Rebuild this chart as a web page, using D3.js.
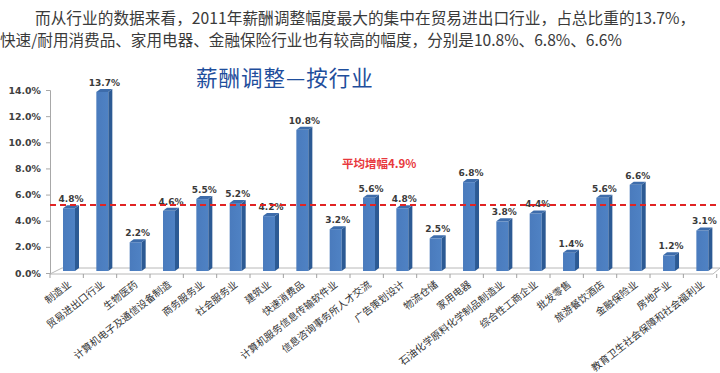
<!DOCTYPE html>
<html><head><meta charset="utf-8">
<script src="https://cdn.jsdelivr.net/npm/d3@7/dist/d3.min.js"></script>
<style>
body{margin:0;background:#fff;}
svg{display:block;}
</style></head>
<body><svg id="c" width="720" height="373"></svg>
<script>
const categories = ["制造业","贸易进出口行业","生物医药","计算机电子及通信设备制造","商务服务业","社会服务业","建筑业","快速消费品","计算机服务信息传输软件业","信息咨询事务所人才交流","广告策划设计","物流仓储","家用电器","石油化学原料化学制品制造业","综合性工商企业","批发零售","旅游餐饮酒店","金融保险业","房地产业","教育卫生社会保障和社会福利业"];
const values = [4.8,13.7,2.2,4.6,5.5,5.2,4.2,10.8,3.2,5.6,4.8,2.5,6.8,3.8,4.4,1.4,5.6,6.6,1.2,3.1];
const yTicks = [0,2,4,6,8,10,12,14];
const average = 4.9;
const averageLabel = "平均增幅4.9%";
const title = "薪酬调整—按行业";
const introLines = ["而从行业的数据来看，2011年薪酬调整幅度最大的集中在贸易进出口行业，占总比重的13.7%，","快速/耐用消费品、家用电器、金融保险行业也有较高的幅度，分别是10.8%、6.8%、6.6%"];

const svg = d3.select("#c");
const cjk = "'Noto Sans CJK SC','Noto Sans',sans-serif";
const num = "'DejaVu Sans',Verdana,sans-serif";

// intro text
svg.append("text").attr("x",35).attr("y",24).attr("font-family",cjk).attr("font-size",15.7).attr("fill","#3a3a3a").text(introLines[0]);
svg.append("text").attr("x",0).attr("y",46).attr("font-family",cjk).attr("font-size",15.6).attr("fill","#3a3a3a").text(introLines[1]);

// title
svg.append("text").attr("x",196).attr("y",86).attr("font-family",cjk).attr("font-size",21.5).attr("fill","#1f4e9c").attr("letter-spacing",1).text(title);

const x = d3.scaleBand().domain(categories).range([50,716.7]).padding(0);
const y = d3.scaleLinear().domain([0,14]).range([271,88]);
const depth = 4, rise = 3, fw = 12, off = 13;

// floor
const x0 = 50, x1 = 713;
const floor = svg.append("g").attr("stroke","#b8b8b8").attr("fill","none").attr("stroke-width",1);
floor.append("path").attr("d",`M${x0},274 L${x0+12},268 L720,268`);
floor.append("path").attr("d",`M${x0},274 L${x1},274 L720,268`);
// category ticks
svg.append("g").selectAll("line").data(categories.concat(["_end"])).join("line")
  .attr("x1",(d,i)=>50+i*x.bandwidth()).attr("x2",(d,i)=>50+i*x.bandwidth())
  .attr("y1",274).attr("y2",278).attr("stroke","#a0a0a0");

// y axis
const ya = svg.append("g").attr("transform","translate(50,2)")
  .call(d3.axisLeft(y).tickValues(yTicks).tickSize(4).tickPadding(5).tickFormat(d=>d3.format(".1f")(d)+"%"));
ya.select(".domain").attr("stroke","#a8a8a8");
ya.selectAll(".tick line").attr("stroke","#a8a8a8");
ya.selectAll("text").attr("font-family",num).attr("font-size",9.4).attr("font-weight","bold").attr("fill","#404040");

// bars
const defs = svg.append("defs");
const g1 = defs.append("linearGradient").attr("id","gf").attr("x1",0).attr("x2",1);
g1.append("stop").attr("offset","0").attr("stop-color","#4a7bbd");
g1.append("stop").attr("offset","1").attr("stop-color","#4f82c4");
const bars = svg.append("g").selectAll("g").data(values).join("g");
bars.append("rect").attr("x",(d,i)=>x(categories[i])+off).attr("y",d=>y(d)).attr("width",fw).attr("height",d=>y(0)-y(d)).attr("fill","url(#gf)");
bars.append("path").attr("fill","#2c5a94").attr("d",(d,i)=>{const l=x(categories[i])+off+fw; return `M${l},${y(d)} L${l+depth},${y(d)-rise} L${l+depth},${y(0)-rise} L${l},${y(0)} Z`;});
bars.append("path").attr("fill","#3d6cab").attr("d",(d,i)=>{const l=x(categories[i])+off; return `M${l},${y(d)} L${l+depth},${y(d)-rise} L${l+fw+depth},${y(d)-rise} L${l+fw},${y(d)} Z`;});
bars.append("text").attr("x",(d,i)=>x(categories[i])+off+fw/2+2).attr("y",d=>y(d)-6)
  .attr("text-anchor","middle").attr("font-family",num).attr("font-size",9).attr("font-weight","bold").attr("fill","#3a3a3a")
  .text(d=>d3.format(".1f")(d)+"%");

// average line
svg.append("line").attr("x1",50).attr("x2",720).attr("y1",y(average)-2).attr("y2",y(average)-2)
  .attr("stroke","#e02424").attr("stroke-width",2).attr("stroke-dasharray","6,4");
svg.append("text").attr("x",342).attr("y",168).attr("font-family",cjk).attr("font-size",11.5).attr("font-weight","bold").attr("fill","#e8383d").text(averageLabel);

// x labels
svg.append("g").selectAll("text").data(categories).join("text")
  .attr("transform",d=>`translate(${x(d)+x.bandwidth()/2+3},${283}) rotate(-38)`)
  .attr("text-anchor","end").attr("dy","0.35em")
  .attr("font-family",cjk).attr("font-size",10).attr("fill","#333").text(d=>d);
</script></body></html>
